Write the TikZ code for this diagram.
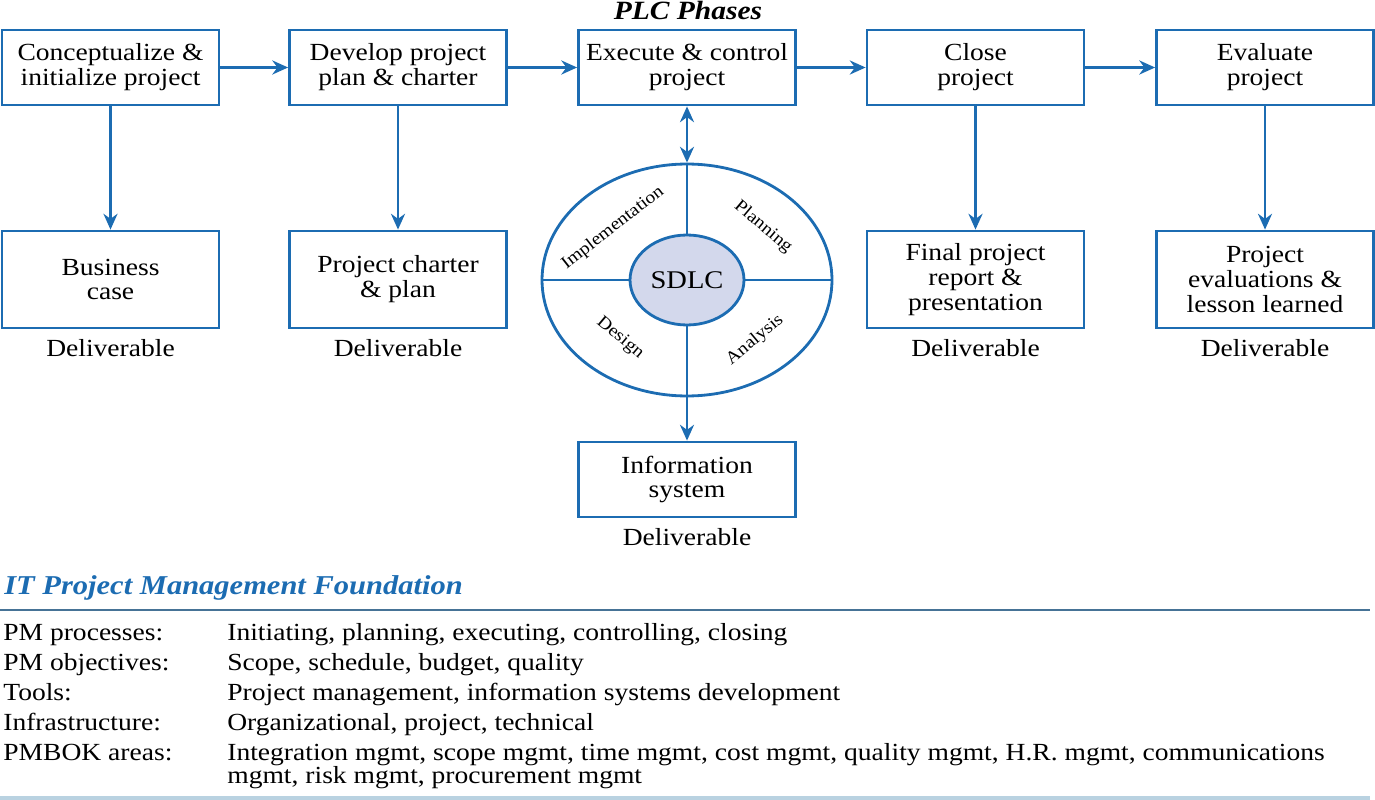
\documentclass[tikz,border=0pt]{standalone}
\usepackage{fontspec}
\setmainfont{Liberation Serif}[FakeStretch=1.12]
\usetikzlibrary{arrows.meta,positioning,shapes.geometric}
\definecolor{plcblue}{RGB}{28,108,178}
\definecolor{sdlcfill}{RGB}{211,216,236}
\definecolor{rulecol}{RGB}{70,115,150}
\definecolor{rulelight}{RGB}{185,210,225}
\tikzset{font=\fontsize{14}{14.2}\selectfont}
\tikzstyle{phase}=[draw=plcblue,line width=1.6pt,minimum width=4.34cm,minimum height=1.5cm,align=center,inner sep=1pt]
\tikzstyle{deliv}=[phase,minimum height=1.94cm]
\tikzstyle{quad}=[font=\fontsize{10}{12}\selectfont,inner sep=0pt]
\tikzstyle{row}=[anchor=base west,inner sep=0pt]

\begin{document}
\begin{tikzpicture}[x=0.02cm,y=-0.02cm]
\useasboundingbox (0,0) rectangle (1375,800);
\node[font=\fontsize{15}{16}\selectfont\bfseries\itshape] (T) at (688,10) {PLC Phases};
\node[phase] (A) at (110.5,67.5) {Conceptualize \&\\initialize project};
\node[phase] (B) at (398,67.5) {Develop project\\plan \& charter};
\node[phase] (C) at (687,67.5) {Execute \& control\\project};
\node[phase] (D) at (975.5,67.5) {Close\\project};
\node[phase] (E) at (1265,67.5) {Evaluate\\project};
\node[deliv] (A') at (110.5,279.5) {Business\\case};
\node[deliv] (B') at (398,279.5) {Project charter\\\& plan};
\node[deliv] (D') at (975.5,279.5) {Final project\\report \&\\presentation};
\node[deliv] (E') at (1265,279.5) {Project\\evaluations \&\\lesson learned};
\node (A'') at (110.5,348) {Deliverable};
\node (B'') at (398,348) {Deliverable};
\node (D'') at (975.5,348) {Deliverable};
\node (E'') at (1265,348) {Deliverable};
\node[ellipse,draw=plcblue,line width=1.6pt,minimum width=5.8cm,minimum height=4.64cm,inner sep=0pt] (O) at (687,280) {};
\node[ellipse,draw=plcblue,fill=sdlcfill,line width=1.6pt,minimum width=2.28cm,minimum height=1.8cm,inner sep=0pt,font=\fontsize{14.5}{16}\selectfont] (S) at (687,280) {SDLC};
\node[phase] (F) at (687,479.5) {Information\\system};
\node (F'') at (687,537) {Deliverable};
\node[quad,rotate=38] (Q1) at (613,228) {Implementation};
\node[quad,rotate=-40] (Q2) at (763,227) {Planning};
\node[quad,rotate=-40] (Q3) at (620,338) {Design};
\node[quad,rotate=40] (Q4) at (755,340) {Analysis};
\draw[plcblue,line width=1.6pt] (O.north) -- (S.north) (S.south) -- (O.south) (O.west) -- (S.west) (S.east) -- (O.east);
\path[-{Stealth[length=9pt,width=8pt]},color=plcblue,line width=1.6pt]
(A) edge (B)
(B) edge (C)
(C) edge (D)
(D) edge (E)
(A) edge (A')
(B) edge (B')
(D) edge (D')
(E) edge (E')
(C) edge[{Stealth[length=9pt,width=8pt]}-{Stealth[length=9pt,width=8pt]}] (O)
(O) edge (F);
\node[anchor=west,inner sep=0pt,text=plcblue,font=\fontsize{15.5}{17}\selectfont\bfseries\itshape] (G) at (4,588) {IT Project Management Foundation};
\draw[rulecol,line width=1pt] (0,610) -- (1370,610);
\draw[rulelight,line width=1.8pt] (0,798) -- (1370,798);
\node[row] (L1) at (3,640) {PM processes:};
\node[row] (L2) at (3,670) {PM objectives:};
\node[row] (L3) at (3,700) {Tools:};
\node[row] (L4) at (3,730) {Infrastructure:};
\node[row] (L5) at (3,760) {PMBOK areas:};
\node[row] (V1) at (227,640) {Initiating, planning, executing, controlling, closing};
\node[row] (V2) at (227,670) {Scope, schedule, budget, quality};
\node[row] (V3) at (227,700) {Project management, information systems development};
\node[row] (V4) at (227,730) {Organizational, project, technical};
\node[row] (V5) at (227,760) {Integration mgmt, scope mgmt, time mgmt, cost mgmt, quality mgmt, H.R. mgmt, communications};
\node[row] (V6) at (227,783) {mgmt, risk mgmt, procurement mgmt};
\end{tikzpicture}
\end{document}
